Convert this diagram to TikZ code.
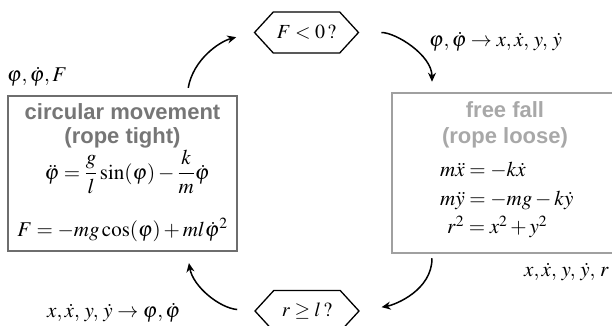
\documentclass[tikz,border=0pt]{standalone}
\usepackage{amsmath}
\usepackage{mathptmx}
\usepackage[no-math]{fontspec}
\setmainfont{Liberation Serif}
\newfontfamily\titlefont{Liberation Sans}
\usetikzlibrary{shapes.symbols,arrows.meta}
\definecolor{boxdark}{HTML}{6E6E6E}
\definecolor{boxlight}{HTML}{A0A0A0}
\definecolor{titledark}{HTML}{767676}
\definecolor{titlelight}{HTML}{A8A8A8}
\newcommand{\vp}{\varphi}
\begin{document}
\begin{tikzpicture}[x=1pt,y=1pt,
  circbox/.style={draw=boxdark, line width=2.5pt, minimum width=229pt, minimum height=155pt, inner sep=0pt},
  fallbox/.style={draw=boxlight, line width=2.5pt, minimum width=228pt, minimum height=160pt, inner sep=0pt},
  hexbox/.style={draw, line width=1.3pt, shape=signal, signal to=east and west, signal pointer angle=95, minimum width=104pt, minimum height=41pt, inner sep=0pt, font=\fontsize{20}{22}\selectfont},
  ttl/.style={font=\titlefont\bfseries\fontsize{22}{24}\selectfont, inner sep=0pt},
  eq/.style={font=\fontsize{21}{24}\selectfont, inner sep=0pt},
  lbl/.style={font=\fontsize{21}{24}\selectfont, inner sep=0pt, anchor=west},
  flow/.style={-{Stealth[length=9pt,width=8pt]}, line width=1.5pt}
]
\useasboundingbox (0,0) rectangle (612,-326);
\clip (0,0) rectangle (612,-326);
\node[circbox] (circ) at (122.5,-173.5) {};
\node[fallbox] (fall) at (506,-173) {};
\node[hexbox] (hexF) at (306.5,-32.5) {$F<0\,?$};
\node[hexbox] (hexR) at (307,-311) {$r\geq l\,?$};
\node[ttl, text=titledark] (circT) at (122.5,-112) {circular movement};
\node[ttl, text=titledark] (circS) at (122.5,-138) {(rope tight)};
\node[eq] (circE1) at (127,-172) {$\ddot{\vp}=\dfrac{g}{l}\sin(\vp)-\dfrac{k}{m}\dot{\vp}$};
\node[eq] (circE2) at (122.5,-230) {$F=-mg\cos(\vp)+ml\dot{\vp}^2$};
\node[ttl, text=titlelight] (fallT) at (505,-110) {free fall};
\node[ttl, text=titlelight] (fallS) at (505,-138) {(rope loose)};
\node[eq, anchor=west] (fallE1) at (440,-170) {$m\ddot{x}=-k\dot{x}$};
\node[eq, anchor=west] (fallE2) at (440,-200) {$m\ddot{y}=-mg-k\dot{y}$};
\node[eq, anchor=west] (fallE3) at (447,-227) {$r^2=x^2+y^2$};
\node[lbl] (lA) at (7,-77) {$\vp,\dot{\vp},F$};
\node[lbl] (lB) at (429,-42) {$\vp,\dot{\vp}\rightarrow x,\dot{x},\,y,\,\dot{y}$};
\node[lbl] (lC) at (47,-313) {$x,\dot{x},\,y,\,\dot{y}\rightarrow\vp,\dot{\vp}$};
\node[lbl] (lD) at (524,-272) {$x,\dot{x},\,y,\,\dot{y},\,r$};
\draw[flow, shorten <=7pt, shorten >=18pt] ([xshift=64.5pt]circ.north) to[out=80,in=195] (hexF.west);
\draw[flow, shorten <=22pt, shorten >=10pt] (hexF.east) to[out=0,in=90] ([xshift=-74pt]fall.north);
\draw[flow, shorten <=4pt, shorten >=22pt] ([xshift=-74pt]fall.south) to[out=-90,in=10] (hexR.east);
\draw[flow, shorten <=17pt, shorten >=11pt] (hexR.west) to[out=175,in=-80] ([xshift=64.5pt]circ.south);
\end{tikzpicture}
\end{document}
